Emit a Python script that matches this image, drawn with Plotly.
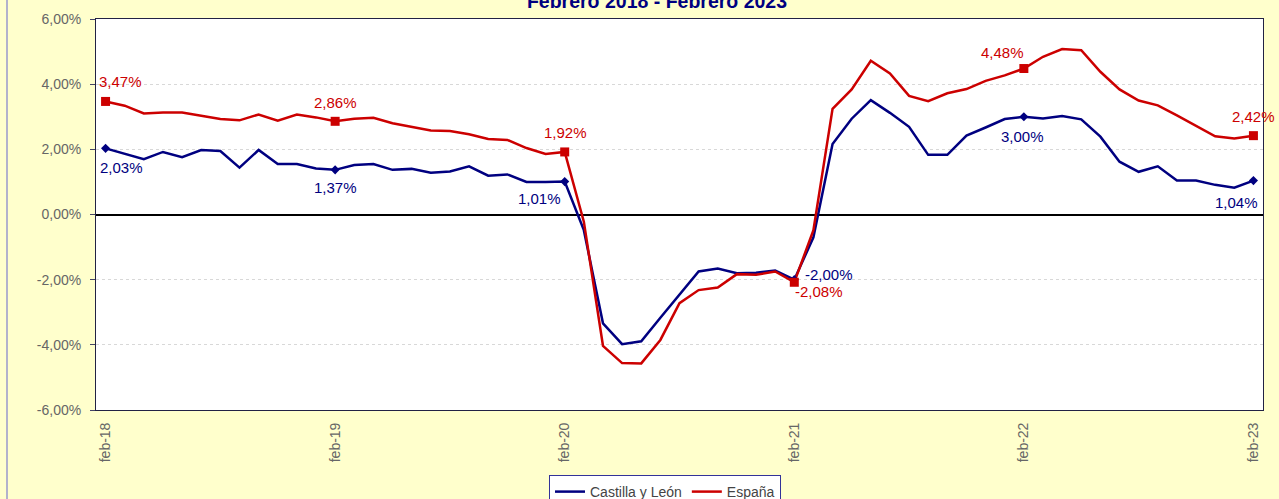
import plotly.graph_objects as go

# ---------------- data ----------------
MESES = ["ene", "feb", "mar", "abr", "may", "jun", "jul", "ago", "sep", "oct", "nov", "dic"]
months = []
for yy in range(18, 24):
    for m in MESES:
        months.append(f"{m}-{yy}")
months = months[1:62]  # feb-18 ... feb-23

tick_labels = ["feb-18", "feb-19", "feb-20", "feb-21", "feb-22", "feb-23"]

castilla_leon = [
    2.03, 1.87, 1.70, 1.92, 1.76, 1.98, 1.95, 1.44, 1.98, 1.55, 1.55, 1.41,
    1.37, 1.52, 1.55, 1.37, 1.40, 1.28, 1.32, 1.48, 1.19, 1.23, 1.00, 1.00,
    1.01, -0.48, -3.34, -3.98, -3.89, -3.17, -2.47, -1.75, -1.66, -1.80, -1.79, -1.72,
    -2.00, -0.70, 2.16, 2.94, 3.51, 3.12, 2.69, 1.83, 1.83, 2.42, 2.67, 2.93,
    3.00, 2.95, 3.02, 2.92, 2.39, 1.62, 1.31, 1.48, 1.04, 1.04, 0.91, 0.82,
    1.04,
]
espana = [
    3.47, 3.34, 3.10, 3.13, 3.13, 3.03, 2.93, 2.89, 3.07, 2.88, 3.07, 2.98,
    2.86, 2.94, 2.97, 2.80, 2.69, 2.58, 2.56, 2.46, 2.32, 2.29, 2.04, 1.86,
    1.92, -0.22, -4.03, -4.56, -4.57, -3.85, -2.72, -2.32, -2.24, -1.83, -1.85, -1.75,
    -2.08, -0.48, 3.24, 3.84, 4.72, 4.33, 3.64, 3.48, 3.72, 3.85, 4.10, 4.27,
    4.48, 4.84, 5.08, 5.04, 4.38, 3.84, 3.50, 3.35, 3.04, 2.71, 2.40, 2.33,
    2.42,
]
y_tickvals = [6, 4, 2, 0, -2, -4, -6]
y_ticktext = ["6,00%", "4,00%", "2,00%", "0,00%", "-2,00%", "-4,00%", "-6,00%"]

# ---------------- style ----------------
FONT = "Arial, Liberation Sans, sans-serif"
BLUE = "#000080"
RED = "#CC0000"
# label pixel offsets (dx, dy) for each February point
blue_offsets = [(16, 19), (0, 18), (-25, 17), (35, -5), (-1, 20), (-17, 22)]
red_offsets = [(15, -20), (0, -19), (1, -19), (25, 9), (-21, -16), (0, -19)]


def fmt(v):
    return f"{v:.2f}%".replace(".", ",")


feb_idx = [months.index(t) for t in tick_labels]

fig = go.Figure()
fig.add_trace(go.Scatter(
    x=months, y=castilla_leon, mode="lines", name="Castilla y León",
    line=dict(color=BLUE, width=2.5), hoverinfo="skip"))
fig.add_trace(go.Scatter(
    x=months, y=espana, mode="lines", name="España",
    line=dict(color=RED, width=2.5), hoverinfo="skip"))
fig.add_trace(go.Scatter(
    x=[months[i] for i in feb_idx], y=[castilla_leon[i] for i in feb_idx],
    mode="markers", marker=dict(symbol="diamond", size=7, color=BLUE),
    showlegend=False, hoverinfo="skip"))
fig.add_trace(go.Scatter(
    x=[months[i] for i in feb_idx], y=[espana[i] for i in feb_idx],
    mode="markers", marker=dict(symbol="square", size=9, color=RED),
    showlegend=False, hoverinfo="skip"))

annotations = []
for n, i in enumerate(feb_idx):
    for series, offs, col in ((castilla_leon, blue_offsets, BLUE), (espana, red_offsets, RED)):
        dx, dy = offs[n]
        annotations.append(dict(
            x=months[i], y=series[i], xref="x", yref="y", text=fmt(series[i]),
            showarrow=False, xanchor="center", yanchor="middle",
            xshift=dx, yshift=-dy, font=dict(family=FONT, size=15, color=col)))

fig.update_layout(
    width=1279, height=499,
    paper_bgcolor="#FFFFCC", plot_bgcolor="#FFFFFF",
    margin=dict(l=96, r=16, t=19, b=89),
    font=dict(family=FONT),
    title=dict(text="Febrero 2018 - Febrero 2023", x=657 / 1279, xanchor="center",
               xref="container", y=1 - 1 / 499, yanchor="middle", yref="container",
               font=dict(family=FONT, size=19.5, color=BLUE, weight="bold")),
    xaxis=dict(type="category", range=[-0.5, 60.5], tickvals=tick_labels, ticktext=tick_labels,
               tickangle=-90, ticks="", tickfont=dict(family=FONT, size=14, color="#666666"),
               showgrid=False, showline=True, linecolor="#222244", linewidth=1, mirror=True,
               ticklabelstandoff=6),
    xaxis2=dict(overlaying="x", anchor="free", position=0.5, side="bottom",
                range=[-0.5, 60.5], tickvals=[11.5, 23.5, 35.5, 47.5, 59.5],
                ticks="outside", ticklen=4, tickcolor="#000000", tickwidth=1,
                showticklabels=False, showgrid=False, showline=False, zeroline=False),
    yaxis=dict(range=[-6, 6], tickvals=y_tickvals, ticktext=y_ticktext,
               ticks="outside", ticklen=5, tickcolor="#444466",
               tickfont=dict(family=FONT, size=14, color="#666666"),
               showgrid=True, gridcolor="#D8D8D8", griddash="dot", gridwidth=1,
               zeroline=True, zerolinecolor="#000000", zerolinewidth=1.5,
               showline=True, linecolor="#222244", linewidth=1, mirror=True,
               ticklabelstandoff=6),
    legend=dict(orientation="h", xref="container", yref="container",
                x=665 / 1279, xanchor="center", y=1 - 475 / 499, yanchor="top",
                bgcolor="#FFFFFF", bordercolor="#333399", borderwidth=1,
                font=dict(family=FONT, size=14, color="#444444"), itemwidth=30),
    annotations=annotations,
    shapes=[dict(type="line", xref="paper", yref="paper",
                 x0=(7 - 96) / 1167, x1=(7 - 96) / 1167, y0=-0.3, y1=1.1,
                 line=dict(color="#9999CC", width=1.5))],
    showlegend=True,
)

fig.write_html(
    "out.html",
    config={"displayModeBar": False},
    post_script="document.body.style.margin='0px';document.body.style.overflow='hidden';",
)
